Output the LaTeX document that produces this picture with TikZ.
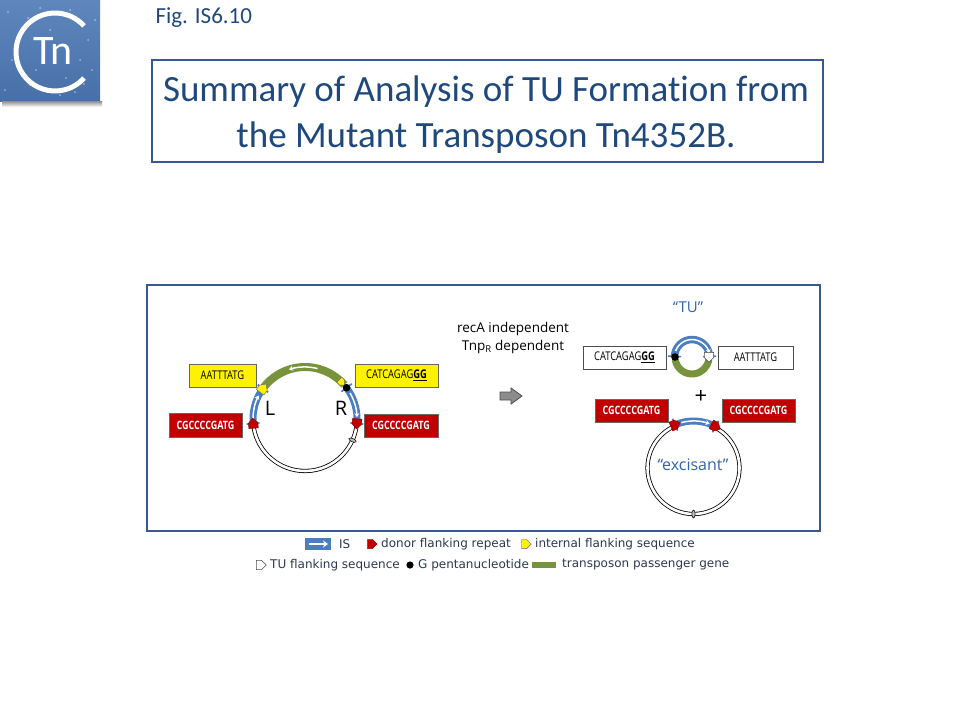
\documentclass[tikz,border=0pt]{standalone}
\usepackage{fontspec}
\setmainfont{Carlito}[Ligatures={TeX,NoCommon}]
\newfontfamily\labf{Open Sans}
\newfontfamily\legf{DejaVu Sans}
\usetikzlibrary{arrows.meta,shapes.geometric,calc}
\definecolor{titleblue}{RGB}{31,73,125}
\definecolor{framebl}{RGB}{56,88,148}
\definecolor{isblue}{RGB}{74,126,193}
\definecolor{txtblue}{RGB}{50,100,170}
\definecolor{gene}{RGB}{119,147,60}
\definecolor{dred}{RGB}{192,0,0}
\definecolor{legtext}{RGB}{45,55,80}
\definecolor{logobl}{RGB}{72,112,168}
\definecolor{logobl2}{RGB}{95,135,190}
\tikzset{
  pentarrow/.pic={\path[pic actions] (-3.5,-3.5) -- (0.5,-3.5) -- (4,0) -- (0.5,3.5) -- (-3.5,3.5) -- cycle;},
  ybox/.style={draw=black!60, fill=yellow, line width=0.8, inner sep=0, font=\labf\fontsize{12}{12}\selectfont},
  rbox/.style={draw=black!60, fill=dred, line width=0.8, inner sep=0, text=white, font=\labf\bfseries\fontsize{11.5}{12}\selectfont},
  wbox/.style={draw=black!70, fill=white, line width=0.8, inner sep=0, font=\labf\fontsize{12}{12}\selectfont},
  dbl/.style={line width=0.8, double=white, double distance=2.6},
  iswhite/.style={white, line width=1.5, -{Stealth[length=4,width=5]}},
  flare/.style={isblue, line width=1.6},
  legt/.style={anchor=west, inner sep=0, text=legtext, font=\legf\fontsize{12}{14}\selectfont},
  marker/.style={ellipse, draw=black, fill=black!25, line width=0.5, minimum width=8, minimum height=3.2, inner sep=0},
}
\newcommand\sqz[1]{\scalebox{0.78}[1]{#1}}
\begin{document}
\begin{tikzpicture}[x=1pt,y=1pt]
\useasboundingbox (0,0) rectangle (960,-720);
\fill[white] (0,0) rectangle (960,-720);
% logo
\shade[top color=logobl2, bottom color=logobl] (0,0) rectangle (100,-101);
\shade[top color=black!45, bottom color=white] (2,-101) rectangle (102,-107);
\foreach \p in {(8,-12),(22,-30),(12,-60),(30,-85),(70,-10),(88,-40),(92,-70),(75,-92),(40,-8),(60,-95),(5,-90),(95,-20),(50,-30),(18,-45),(84,-84),(36,-70),(66,-78),(80,-60),(28,-18)}
  \fill[white, opacity=0.45] \p circle (1);
\draw[white, line width=5] (55,-52) ++(42:39) arc[start angle=42, end angle=318, radius=39];
\node[white, font=\fontsize{42}{42}\selectfont] (tn) at (53,-51) {Tn};
% fig label
\node[anchor=west, text=titleblue, font=\fontsize{23}{23}\selectfont] (fig) at (152,-18) {Fig. IS6.10};
% title
\node[draw=framebl, line width=1.8, minimum width=671, minimum height=102, inner sep=0] (titlebox) at (487.5,-111) {};
\node[align=center, text=titleblue, font=\fontsize{37}{46}\selectfont] (title) at (486,-115) {Summary of Analysis of TU Formation from\\the Mutant Transposon Tn4352B.};
% frame
\node[draw=framebl, line width=1.8, minimum width=673, minimum height=246, inner sep=0] (frame) at (483.5,-408) {};
% ---------- left circle ----------
\coordinate (C1) at (305,-419);
\draw[dbl] (C1) ++(-5:52) arc[start angle=-5, end angle=-175, radius=52];
\draw[gene, line width=8] (C1) ++(41:52) arc[start angle=41, end angle=143, radius=52];
\draw[iswhite] (C1) ++(76:52) arc[start angle=76, end angle=108, radius=52];
\foreach \a in {185,144,37,-5} \draw[flare] ($(C1)+(\a:45.5)$) -- ($(C1)+(\a:58.5)$);
\draw[isblue, line width=7] (C1) ++(185:52) arc[start angle=185, end angle=144, radius=52];
\draw[iswhite] (C1) ++(180:52) arc[start angle=180, end angle=153, radius=52];
\draw[isblue, line width=7] (C1) ++(37:52) arc[start angle=37, end angle=-5, radius=52];
\draw[iswhite] (C1) ++(30:52) arc[start angle=30, end angle=2, radius=52];
\pic[fill=dred, draw=dred!70!black, line width=0.4, rotate=95, scale=1.35] at ($(C1)+(185:52)$) {pentarrow};
\pic[fill=dred, draw=dred!70!black, line width=0.4, rotate=-95, scale=1.35] at ($(C1)+(-5:52)$) {pentarrow};
\pic[fill=yellow, draw=black!60, line width=0.4, rotate=54, scale=1.35] at ($(C1)+(144:52)$) {pentarrow};
\pic[fill=yellow, draw=black!60, line width=0.4, rotate=-46, scale=1] at ($(C1)+(45:52)$) {pentarrow};
\fill[black] ($(C1)+(37:52)$) circle (3.8);
\node[marker, rotate=-24] (m1) at ($(C1)+(-24:52)$) {};
\node[font=\labf\fontsize{20}{20}\selectfont, inner sep=0] (L) at (270,-408) {L};
\node[font=\labf\fontsize{20}{20}\selectfont, inner sep=0] (R) at (341,-408) {R};
\node[ybox, minimum width=67, minimum height=23] (y1) at (222.5,-375.5) {\sqz{AATTTATG}};
\node[ybox, minimum width=83, minimum height=23] (y2) at (396.5,-375.5) {\sqz{CATCAGAG\textbf{\underline{GG}}}};
\node[rbox, minimum width=73, minimum height=24] (r1) at (205.5,-425) {\sqz{CGCCCCGATG}};
\node[rbox, minimum width=74, minimum height=23] (r2) at (401,-425.5) {\sqz{CGCCCCGATG}};
% ---------- middle ----------
\node[align=center, font=\labf\fontsize{13.5}{18}\selectfont, inner sep=0] (cond) at (513,-338) {recA independent\\Tnp\textsubscript{R} dependent};
\draw[fill=black!45, draw=black!70, line width=0.8] (500,-392) -- (511,-392) -- (511,-388) -- (522,-396) -- (511,-404) -- (511,-400) -- (500,-400) -- cycle;
% ---------- TU ----------
\node[text=txtblue, font=\labf\fontsize{15}{15}\selectfont, inner sep=0] (tulab) at (688,-307) {“TU”};
\coordinate (C2) at (692,-357);
\draw[gene, line width=7] (C2) ++(188:17) arc[start angle=188, end angle=352, radius=17];
\foreach \a in {178,2} \draw[flare] ($(C2)+(\a:11)$) -- ($(C2)+(\a:24)$);
\draw[isblue, line width=7.5] (C2) ++(178:17.5) arc[start angle=178, end angle=2, radius=17.5];
\draw[iswhite] (C2) ++(160:17.5) arc[start angle=160, end angle=12, radius=17.5];
\fill[black] ($(C2)+(180:17)$) circle (3.8);
\pic[fill=white, draw=black!70, line width=0.5, rotate=-90, scale=1.3] at ($(C2)+(0:17)$) {pentarrow};
\node[wbox, minimum width=83, minimum height=23] (w1) at (624.5,-357.5) {\sqz{CATCAGAG\textbf{\underline{GG}}}};
\node[wbox, minimum width=75, minimum height=23] (w2) at (755.5,-357.5) {\sqz{AATTTATG}};
\node[font=\labf\fontsize{22}{22}\selectfont, inner sep=0] (plus) at (701,-397) {+};
\node[rbox, minimum width=73, minimum height=23] (r3) at (631.5,-410.5) {\sqz{CGCCCCGATG}};
\node[rbox, minimum width=73, minimum height=23] (r4) at (758.5,-410.5) {\sqz{CGCCCCGATG}};
% ---------- excisant ----------
\coordinate (C3) at (693.5,-468);
\draw[dbl] (C3) ++(62:46) arc[start angle=62, end angle=-248, radius=46];
\foreach \a in {113,62} \draw[flare] ($(C3)+(\a:40.5)$) -- ($(C3)+(\a:53.5)$);
\draw[isblue, line width=7] (C3) ++(113:47) arc[start angle=113, end angle=62, radius=47];
\draw[iswhite] (C3) ++(105:47) arc[start angle=105, end angle=70, radius=47];
\pic[fill=dred, draw=dred!70!black, line width=0.4, rotate=23, scale=1.35] at ($(C3)+(113:47)$) {pentarrow};
\pic[fill=dred, draw=dred!70!black, line width=0.4, rotate=-28, scale=1.35] at ($(C3)+(62:47)$) {pentarrow};
\node[marker, rotate=-90] (m2) at ($(C3)+(270:46)$) {};
\node[text=txtblue, font=\labf\fontsize{16}{16}\selectfont, inner sep=0] (exlab) at (693,-465) {“excisant”};
% ---------- legend ----------
\fill[isblue] (305,-538) rectangle (331,-550);
\draw[white, line width=1.6, -{Stealth[length=5,width=7]}] (309,-544) -- (328,-544);
\node[legt] (lis) at (339,-544) {IS};
\pic[fill=dred, draw=dred!70!black, line width=0.4, scale=1.3] at (372,-544) {pentarrow};
\node[legt] (ldon) at (381,-544) {donor flanking repeat};
\pic[fill=yellow, draw=black!60, line width=0.4, scale=1.3] at (526,-544) {pentarrow};
\node[legt] (lint) at (535,-544) {internal flanking sequence};
\pic[fill=white, draw=black!70, line width=0.5, scale=1.3] at (261,-565) {pentarrow};
\node[legt] (ltu) at (270,-565) {TU flanking sequence};
\fill[black] (410,-565) circle (3.6);
\node[legt] (lg) at (418,-565) {G pentanucleotide};
\fill[gene] (532,-562) rectangle (556,-568);
\node[legt] (lgene) at (562,-565) {transposon passenger gene};
\end{tikzpicture}
\end{document}
